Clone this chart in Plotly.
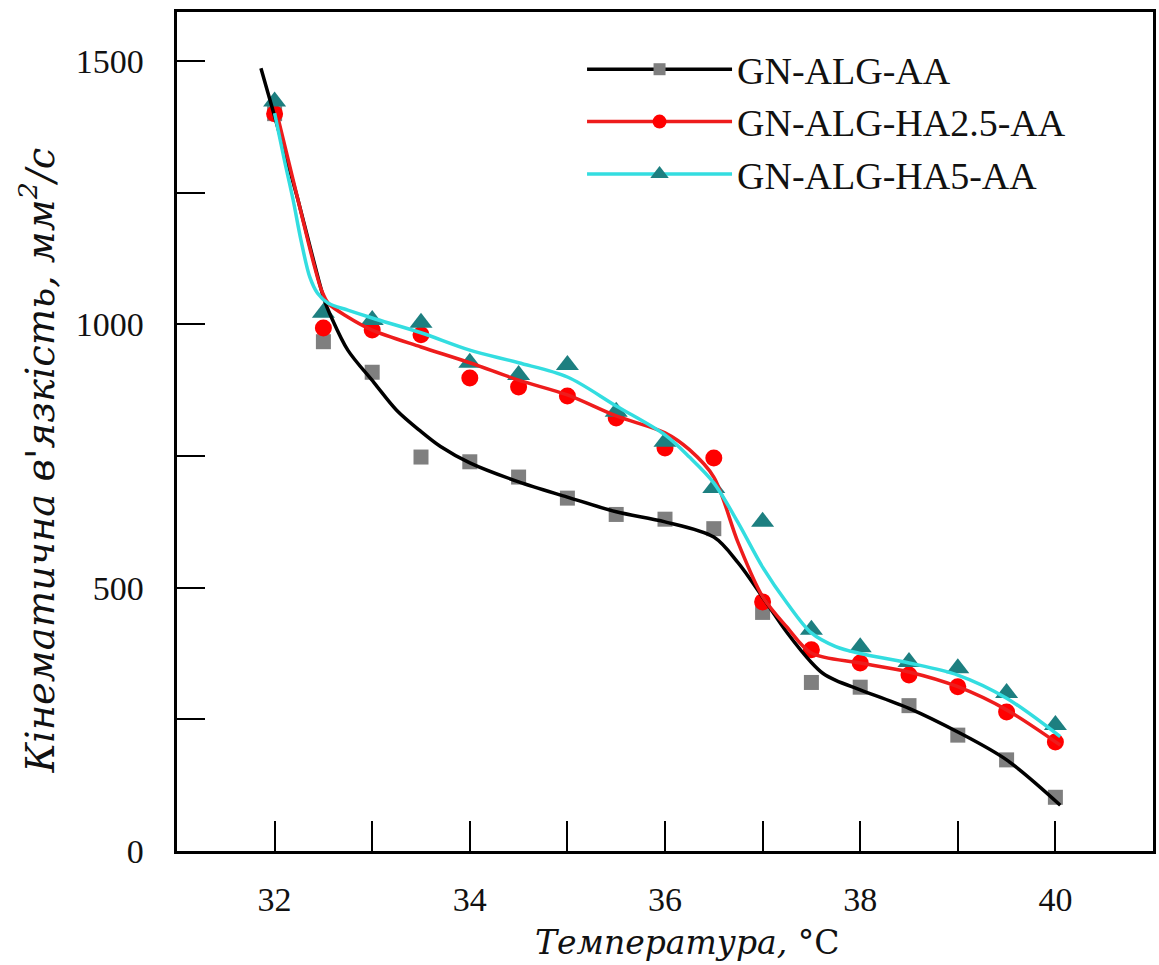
import plotly.graph_objects as go

# measured points
temp = [32, 32.5, 33, 33.5, 34, 34.5, 35, 35.5, 36, 36.5, 37, 37.5, 38, 38.5, 39, 39.5, 40]
visc_aa = [1400, 967, 909, 748, 739, 710, 670, 639, 630, 612, 453, 320, 311, 276, 220, 173, 102]
visc_ha25 = [1400, 993, 989, 980, 898, 881, 864, 822, 765, 746, 473, 382, 357, 334, 312, 264, 207]
visc_ha5 = [1423, 1022, 1008, 1003, 927, 904, 923, 834, 777, 689, 625, 420, 387, 359, 347, 300, 239]

# fitted curves
fit_aa_x = [31.86, 32.0, 32.12, 32.24, 32.38, 32.51, 32.58, 32.75, 33.02, 33.25, 33.49, 33.7, 34, 34.5, 35, 35.5, 36, 36.5, 36.75, 37, 37.25, 37.5, 37.62, 37.75, 38, 38.5, 39, 39.5, 40.05]
fit_aa_y = [1486, 1395, 1316, 1236, 1135, 1046, 1014, 951, 889, 837, 798, 768, 737, 701, 672, 644, 625, 596, 547, 482, 415, 358, 337, 324, 306, 271, 226, 173, 87]
fit_ha25_x = [32.04, 32.14, 32.24, 32.34, 32.41, 32.48, 32.55, 32.75, 33, 33.5, 34, 34.5, 35, 35.5, 36, 36.25, 36.5, 36.75, 37, 37.25, 37.5, 38, 38.5, 39, 39.5, 40.05]
fit_ha25_y = [1388, 1312, 1236, 1160, 1109, 1065, 1040, 1014, 989, 957, 927, 894, 866, 826, 794, 762, 710, 585, 483, 425, 376, 357, 340, 312, 268, 201]
fit_ha5_x = [32.0, 32.1, 32.19, 32.27, 32.36, 32.44, 32.55, 32.75, 33, 33.5, 34, 34.5, 35, 35.5, 36, 36.25, 36.5, 36.75, 37, 37.25, 37.5, 37.75, 38, 38.5, 39, 39.5, 40.05]
fit_ha5_y = [1401, 1312, 1236, 1160, 1090, 1059, 1040, 1027, 1012, 984, 951, 927, 900, 845, 790, 748, 699, 623, 539, 471, 414, 388, 375, 357, 334, 290, 217]

x_ticks = [32, 33, 34, 35, 36, 37, 38, 39, 40]
x_labels = ["32", "", "34", "", "36", "", "38", "", "40"]
y_ticks = [0, 250, 500, 750, 1000, 1250, 1500]
y_labels = ["0", "", "500", "", "1000", "", "1500"]

names = ["GN-ALG-AA", "GN-ALG-HA2.5-AA", "GN-ALG-HA5-AA"]
line_colors = ["#000000", "#ee1c1c", "#33dde0"]
marker_colors = ["#7f7f7f", "#ff0000", "#1d7f80"]
symbols = ["square", "circle", "triangle-up"]
msizes = [15, 17, 20]

x_title = "<i>Температура,</i> °C"
y_title = "<i>Кінематична в'язкість, мм<sup>2</sup>/с</i>"

fig = go.Figure()
series = [(visc_aa, fit_aa_x, fit_aa_y), (visc_ha25, fit_ha25_x, fit_ha25_y), (visc_ha5, fit_ha5_x, fit_ha5_y)]
for i, (pts, fx, fy) in enumerate(series):
    fig.add_trace(go.Scatter(x=temp, y=pts, mode="markers", showlegend=False,
                             marker=dict(symbol=symbols[i], size=msizes[i], color=marker_colors[i])))
for i, (pts, fx, fy) in enumerate(series):
    fig.add_trace(go.Scatter(x=fx, y=fy, mode="lines", showlegend=False,
                             line=dict(color=line_colors[i], width=3.5, shape="spline", smoothing=0.9)))
for i in range(3):
    fig.add_trace(go.Scatter(x=[None], y=[None], mode="lines+markers", name=names[i],
                             legendgroup=names[i],
                             line=dict(color=line_colors[i], width=3.5),
                             marker=dict(symbol=symbols[i], size=msizes[i] - 3, color=marker_colors[i])))

font_family = "Liberation Serif, Times New Roman, serif"
title_family = "DejaVu Serif, Liberation Serif, serif"
pad = "\u00a0\u00a0\u2009"
fig.update_layout(
    width=1159, height=965,
    margin=dict(l=177, r=3, t=12, b=114),
    plot_bgcolor="white", paper_bgcolor="white",
    font=dict(family=font_family, size=34, color="#111111"),
    legend=dict(x=0.415, y=0.969, xanchor="left", yanchor="top",
                font=dict(size=38, family=font_family, color="#111111"),
                itemwidth=145, tracegroupgap=0, bgcolor="rgba(0,0,0,0)"),
    xaxis=dict(range=[31, 41], tickmode="array", tickvals=x_ticks, ticktext=x_labels,
               ticks="inside", ticklen=30, tickwidth=2,
               tickcolor="black", showline=True, linecolor="black", linewidth=2.5, mirror=True,
               showgrid=False, zeroline=False, ticklabelstandoff=16),
    yaxis=dict(range=[0, 1593], tickmode="array", tickvals=y_ticks,
               ticktext=[t + pad if t else t for t in y_labels],
               ticks="inside", ticklen=28, tickwidth=2, side="left",
               tickcolor="black", showline=True, linecolor="black", linewidth=2.5, mirror=True,
               showgrid=False, zeroline=False),
    annotations=[
        dict(text=x_title, xref="paper", yref="paper", x=0.523, y=(851 - 942) / 839,
             xanchor="center", yanchor="middle", showarrow=False,
             font=dict(size=33, family=title_family)),
        dict(text=y_title, xref="paper", yref="paper", x=(37 - 177) / 979, y=(851 - 460) / 839,
             xanchor="center", yanchor="middle", showarrow=False, textangle=-90,
             font=dict(size=38.5, family=title_family)),
    ],
)
fig.write_html("out.html", config={"displayModeBar": False},
               post_script="document.body.style.margin='0';")
